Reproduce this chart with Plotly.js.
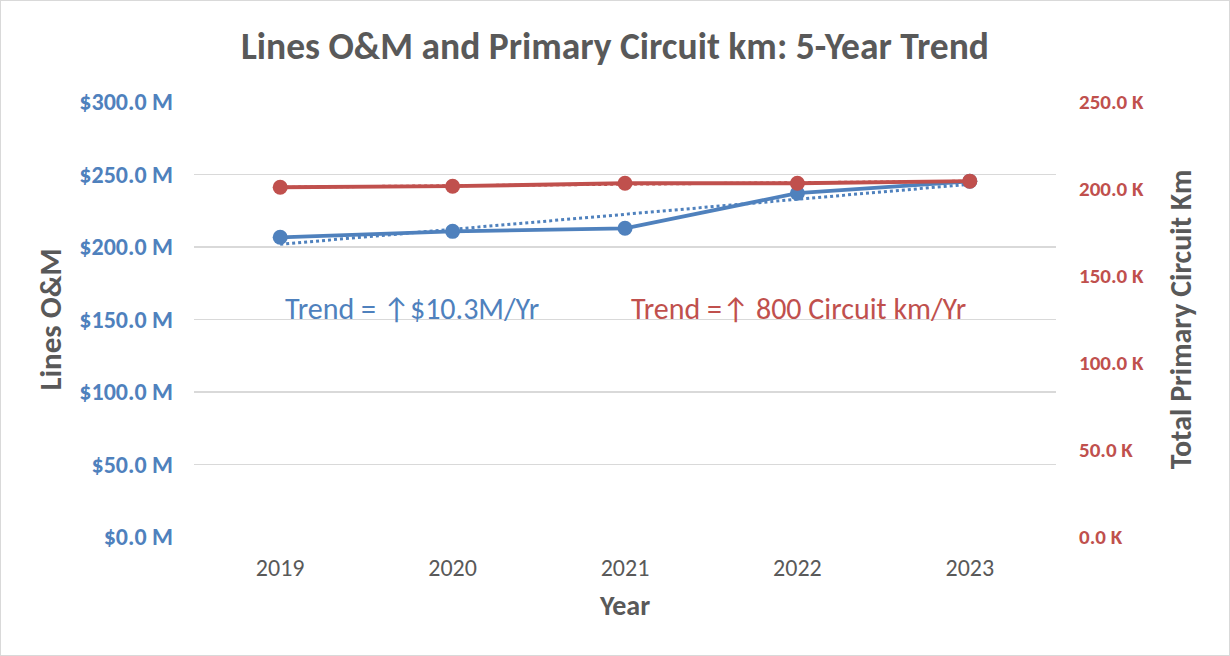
<!DOCTYPE html>
<html>
<head>
<meta charset="utf-8">
<script src="https://cdn.plot.ly/plotly-3.0.1.min.js"></script>
<style>
html,body{margin:0;padding:0;background:#fff;}
#chart{width:1228px;height:654px;border:1px solid #d9d9d9;}
</style>
</head>
<body>
<div id="chart"></div>
<script>
const years = ['2019', '2020', '2021', '2022', '2023'];
const linesOM = [206.7, 210.8, 212.9, 237.1, 245.3];          // $M
const circuitKm = [201.0, 201.6, 203.3, 203.3, 204.5];        // thousand km
const leftTicks = [0, 50, 100, 150, 200, 250, 300];
const leftTickLabels = ['$0.0 M', '$50.0 M', '$100.0 M', '$150.0 M', '$200.0 M', '$250.0 M', '$300.0 M'];
const rightTicks = [0, 50, 100, 150, 200, 250];
const rightTickLabels = ['0.0 K', '50.0 K', '100.0 K', '150.0 K', '200.0 K', '250.0 K'];

function linFit(ys) {
  const n = ys.length;
  const xs = ys.map((_, i) => i);
  const mx = xs.reduce((a, b) => a + b, 0) / n;
  const my = ys.reduce((a, b) => a + b, 0) / n;
  let num = 0, den = 0;
  xs.forEach((x, i) => { num += (x - mx) * (ys[i] - my); den += (x - mx) * (x - mx); });
  const s = num / den;
  return xs.map(x => my + s * (x - mx));
}

const blue = '#4f81bd';
const red = '#c0504d';
const gray = '#595959';
const font = 'Carlito, Calibri, Lato, "Open Sans", sans-serif';

const traces = [
  {x: years, y: linFit(linesOM), yaxis: 'y', mode: 'lines', line: {color: blue, width: 3, dash: 'dot'}, hoverinfo: 'skip'},
  {x: years, y: linesOM, yaxis: 'y', mode: 'lines+markers', line: {color: blue, width: 3.8}, marker: {color: blue, size: 15}},
  {x: years, y: linFit(circuitKm), yaxis: 'y2', mode: 'lines', line: {color: red, width: 3, dash: 'dot'}, hoverinfo: 'skip'},
  {x: years, y: circuitKm, yaxis: 'y2', mode: 'lines+markers', line: {color: red, width: 3.8}, marker: {color: red, size: 15}}
];

const layout = {
  width: 1228, height: 654,
  margin: {l: 193, r: 173, t: 101, b: 118},
  paper_bgcolor: '#fff', plot_bgcolor: '#fff',
  showlegend: false,
  font: {family: font, color: gray},
  title: {text: '<b>Lines O&M and Primary Circuit km: 5-Year Trend</b>', font: {size: 37.5, color: gray, family: font}, x: 0.5, xanchor: 'center', y: 0.931, yanchor: 'middle'},
  xaxis: {
    type: 'category', range: [-0.5, 4.5], showgrid: false, zeroline: false,
    showline: false, ticks: '', tickfont: {size: 24, color: gray},
    ticklabelstandoff: 14,
    title: {text: '<b>Year</b>', font: {size: 28, color: gray}, standoff: 14}
  },
  yaxis: {
    range: [0, 300], tickvals: leftTicks, ticktext: leftTickLabels,
    showgrid: true, gridcolor: '#d9d9d9', gridwidth: 1.3, zeroline: false, showline: false,
    ticks: '', tickfont: {size: 24, color: blue, family: font, weight: 'bold'},
    ticklabelstandoff: 20,
    title: {text: '<b>Lines O&M</b>', font: {size: 31, color: gray}, standoff: 8}
  },
  yaxis2: {
    overlaying: 'y', side: 'right', range: [0, 250], tickvals: rightTicks, ticktext: rightTickLabels,
    showgrid: false, zeroline: false, showline: false, ticks: '',
    tickfont: {size: 21, color: red, family: font, weight: 'bold'},
    ticklabelstandoff: 22,
    title: {text: '<b>Total Primary Circuit Km</b>', font: {size: 30, color: gray}, standoff: 27}
  },
  annotations: [
    {text: 'Trend = ↑$10.3M/Yr', xref: 'paper', yref: 'paper', x: 0.103, y: 0.525, xanchor: 'left', yanchor: 'middle', showarrow: false, font: {size: 30, color: blue, family: font}},
    {text: 'Trend =↑ 800 Circuit km/Yr', xref: 'paper', yref: 'paper', x: 0.505, y: 0.525, xanchor: 'left', yanchor: 'middle', showarrow: false, font: {size: 30, color: red, family: font}}
  ]
};

Plotly.newPlot('chart', traces, layout, {displayModeBar: false, staticPlot: true});
</script>
</body>
</html>
